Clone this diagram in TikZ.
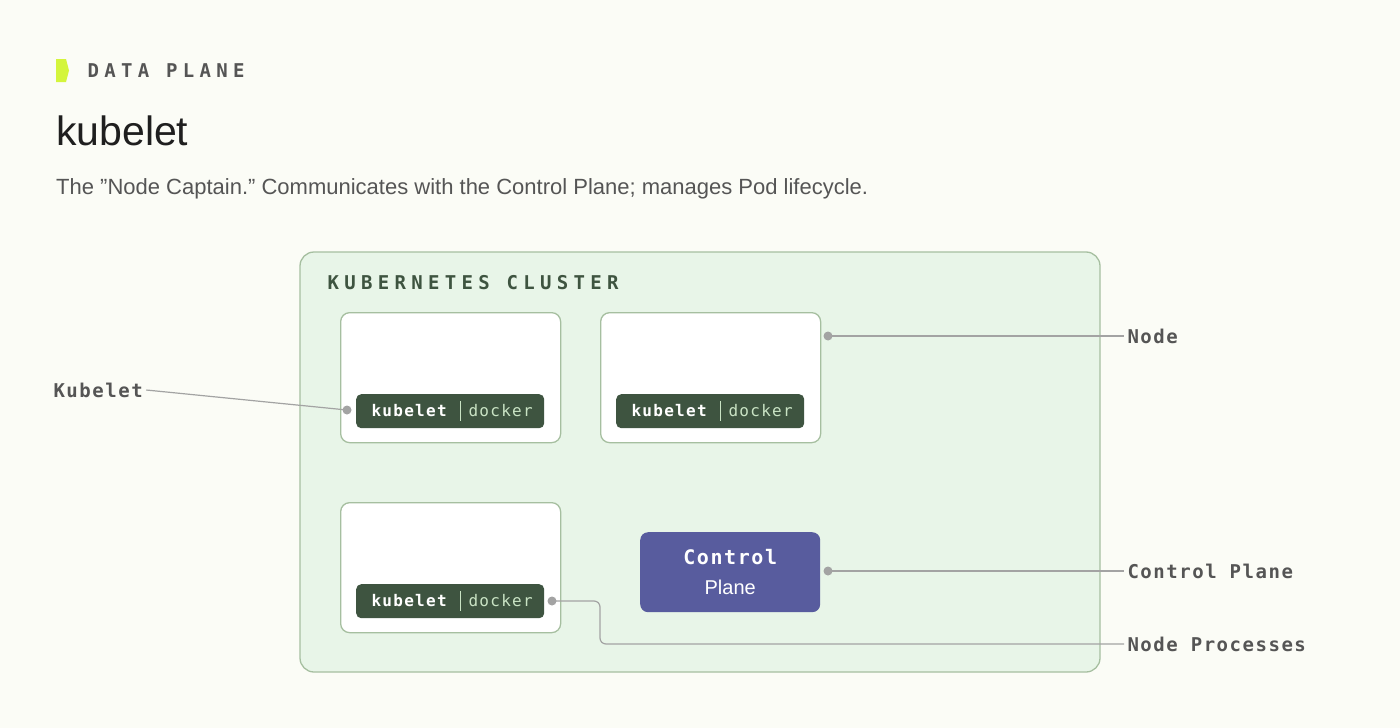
\documentclass[tikz,border=0pt]{standalone}
\usepackage{fontspec}
\setmainfont{Liberation Sans}
\newfontfamily\monofont{DejaVu Sans Mono}[LetterSpace=8]
\newfontfamily\monowide{DejaVu Sans Mono}[LetterSpace=28]
\usetikzlibrary{positioning}

\definecolor{paper}{HTML}{FBFCF6}
\definecolor{lime}{HTML}{D4F53C}
\definecolor{clusterfill}{HTML}{E8F5E8}
\definecolor{clusterline}{HTML}{A6BFA0}
\definecolor{badge}{HTML}{3E5440}
\definecolor{badgetext}{HTML}{C9E3C4}
\definecolor{cplane}{HTML}{585C9E}
\definecolor{leader}{HTML}{A3A3A3}
\definecolor{txtgray}{HTML}{555555}

\tikzset{
  box/.style={draw=clusterline, line width=1.3pt, fill=white, rounded corners=9pt,
    minimum width=220pt, minimum height=130pt, anchor=north west, inner sep=0pt},
  badgebox/.style={fill=badge, rounded corners=5pt, minimum width=188pt,
    minimum height=34pt, anchor=north west, inner sep=0pt},
  lead/.style={draw=leader, line width=1.2pt},
  dot/.style={circle, fill=leader, inner sep=0pt, minimum size=9pt},
  callout/.style={anchor=west, text=txtgray, font=\monofont\fontsize{19}{22}\selectfont\bfseries},
}

\begin{document}
\begin{tikzpicture}[x=1pt,y=-1pt]
    % Page
    \fill[paper] (0,0) rectangle (1400,728);
    \useasboundingbox (0,0) rectangle (1400,728);

    % Header
    \fill[lime] (56,59) -- (66,59) -- (69,70.5) -- (66,82) -- (56,82) -- cycle;
    \node[anchor=west, text=txtgray, font=\monowide\fontsize{19}{22}\selectfont\bfseries] (kicker) at (84,71) {DATA PLANE};
    \node[anchor=base west, inner sep=0pt, text=black!88, font=\fontsize{41}{46}\selectfont] (title) at (56,145) {kubelet};
    \node[anchor=base west, inner sep=0pt, text=txtgray, font=\fontsize{22}{26}\selectfont] (subtitle) at (56,194)
      {The "Node Captain." Communicates with the Control Plane; manages Pod lifecycle.};

    % Cluster
    \draw[clusterline, fill=clusterfill, line width=1.3pt, rounded corners=14pt] (300,252) rectangle (1100,672);
    \node[anchor=west, text=badge, font=\monowide\fontsize{19}{22}\selectfont\bfseries] (clustertitle) at (324,283) {KUBERNETES CLUSTER};

    % Worker nodes
    \foreach \n/\x/\y in {a/340/312, b/600/312, c/340/502} {
      \node[box] (node\n) at (\x,\y) {};
      \node[badgebox] (badge\n) at (\x+16,\y+82) {};
      \node[anchor=west, text=white, font=\monofont\fontsize{16}{18}\selectfont\bfseries] at (\x+28,\y+99) {kubelet};
      \draw[badgetext, line width=1pt] (\x+120,\y+89) -- (\x+120,\y+109);
      \node[anchor=west, text=badgetext, font=\monofont\fontsize{16}{18}\selectfont] at (\x+125,\y+99) {docker};
    }

    % Control plane
    \node[fill=cplane, rounded corners=8pt, minimum width=180pt, minimum height=80pt, anchor=north west,
      inner sep=0pt] (control) at (640,532) {};
    \node[text=white, align=center, font=\fontsize{20}{30}\selectfont] at (control.center)
      {{\monofont\bfseries Control}\\Plane};

    % Callouts
    \node[callout] (lkubelet) at (50,390) {Kubelet};
    \node[callout] (lnode) at (1124,336) {Node};
    \node[callout] (lcontrol) at (1124,571) {Control Plane};
    \node[callout] (lproc) at (1124,644) {Node Processes};

    \node[dot] (dkubelet) at (347,410) {};
    \node[dot] (dnode) at (828,336) {};
    \node[dot] (dcontrol) at (828,571) {};
    \node[dot] (dproc) at (552,601) {};

    \draw[lead] (lkubelet.east) -- (dkubelet.center);
    \draw[lead] (dnode.center) -- (lnode.west);
    \draw[lead] (dcontrol.center) -- (lcontrol.west);
    \draw[lead, rounded corners=6pt] (dproc.center) -- (600,601) -- (600,644) -- (lproc.west);
\end{tikzpicture}
\end{document}
